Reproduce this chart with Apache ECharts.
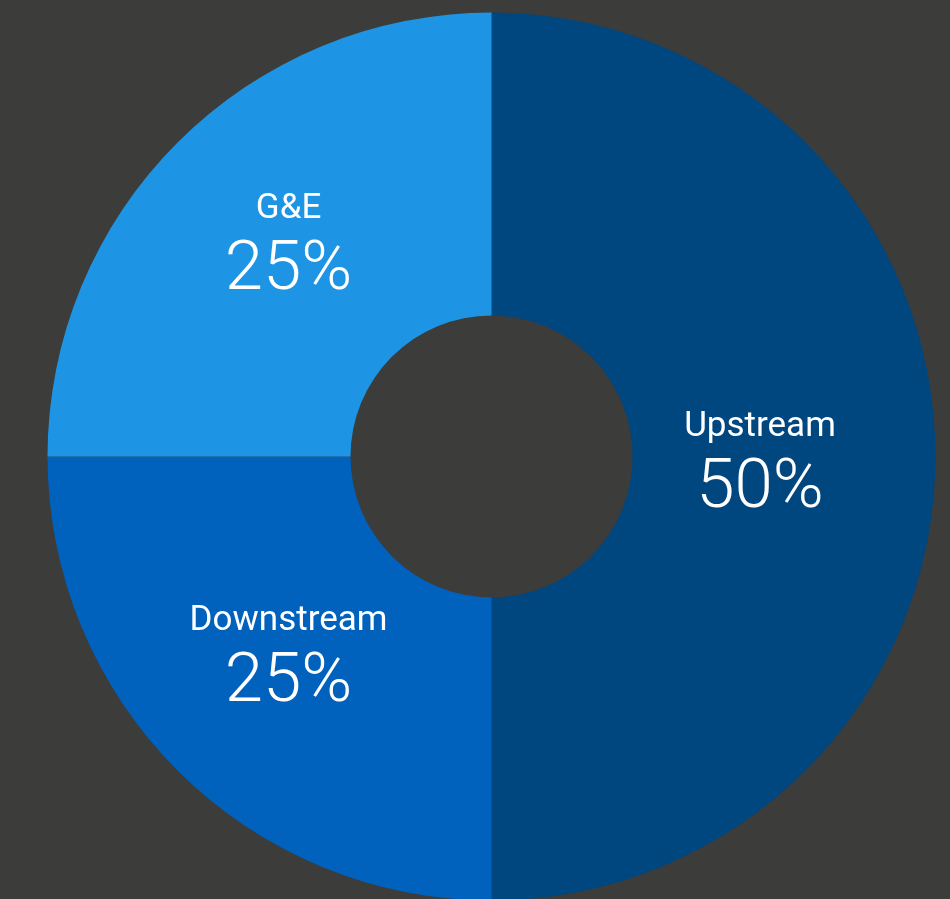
<!DOCTYPE html>
<html>
<head>
<meta charset="utf-8">
<style>
  html, body { margin: 0; padding: 0; background: #3c3c3b; }
  #chart { width: 950px; height: 899px; }
</style>
<script src="https://cdn.jsdelivr.net/npm/echarts@6/dist/echarts.min.js"></script>
</head>
<body>
<div id="chart"></div>
<script>
// Business segment split (percent)
const segments = ['Upstream', 'Downstream', 'G&E'];
const shares = [50, 25, 25];
const segmentColors = ['#00467f', '#0062bd', '#1e95e4'];
// Nudges that place each label block inside its slice
const labelOffsets = [[-27, 10], [6, -5], [6, 1]];

const chart = echarts.init(document.getElementById('chart'), null, { renderer: 'canvas' });

const data = segments.map((name, i) => ({
  name: name,
  value: shares[i],
  itemStyle: { color: segmentColors[i] },
  label: { offset: labelOffsets[i] }
}));

chart.setOption({
  backgroundColor: '#3c3c3b',
  animation: false,
  series: [{
    type: 'pie',
    center: [491.5, 456.5],
    radius: [141, 444],
    startAngle: 90,
    clockwise: true,
    avoidLabelOverlap: false,
    emphasis: { disabled: true },
    itemStyle: { borderWidth: 0 },
    label: {
      show: true,
      position: 'inside',
      color: '#ffffff',
      fontFamily: 'Roboto',
      formatter: p => '{n|' + p.name + '}\n{v|' + p.value + '%}',
      rich: {
        n: { fontSize: 35, fontWeight: 400, color: '#ffffff', fontFamily: 'Roboto', lineHeight: 46, align: 'center' },
        v: { fontSize: 69, fontWeight: 300, color: '#ffffff', fontFamily: 'Roboto', lineHeight: 78, align: 'center' }
      }
    },
    labelLine: { show: false },
    data: data
  }]
});
</script>
</body>
</html>
